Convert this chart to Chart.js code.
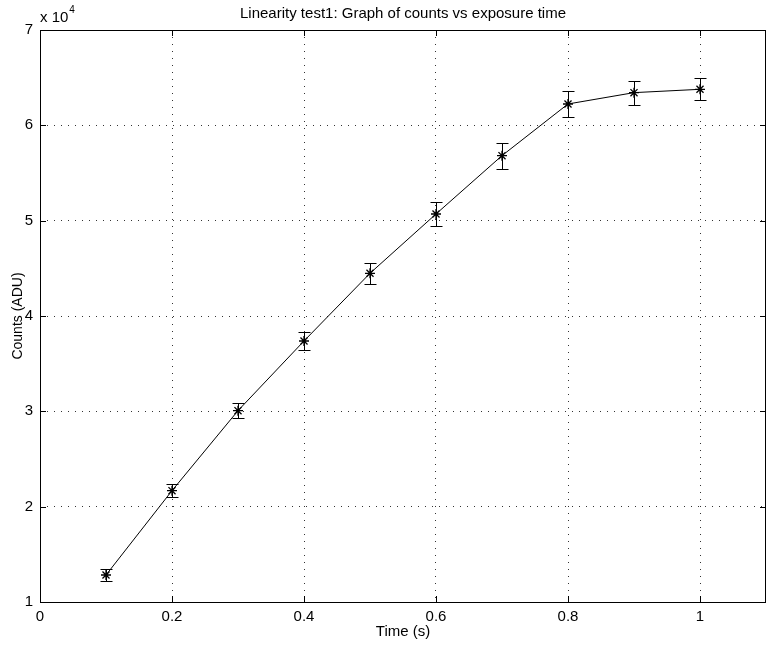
<!DOCTYPE html>
<html>
<head>
<meta charset="utf-8">
<script src="https://cdn.jsdelivr.net/npm/chart.js@4.4.0/dist/chart.umd.min.js"></script>
<style>
  body { margin: 0; background: #fff; }
  canvas { display: block; }
</style>
</head>
<body>
<canvas id="chart" width="767" height="649"></canvas>
<script>
// Linearity test data
const times = [0.1, 0.2, 0.3, 0.4, 0.5, 0.6, 0.7, 0.8, 0.9, 1.0];
const counts = [12830, 21680, 30070, 37380, 44480, 50700, 56820, 62240, 63430, 63780];
const errors = [580, 700, 820, 965, 1120, 1225, 1365, 1340, 1260, 1175];
const xTicks = [0, 0.2, 0.4, 0.6, 0.8, 1.0];
const yTicks = [10000, 20000, 30000, 40000, 50000, 60000, 70000];

const FONT = "'Liberation Sans', Arial, Helvetica, sans-serif";

// titre + multiplicateur "x 10^4"
const textPlugin = {
    id: 'textPlugin',
    afterDraw(chart) {
        const ctx = chart.ctx;
        const area = chart.chartArea;
        ctx.save();
        ctx.fillStyle = '#000';
        ctx.font = '15px ' + FONT;
        ctx.textAlign = 'center';
        ctx.textBaseline = 'middle';
        ctx.fillText('Linearity test1: Graph of counts vs exposure time', (area.left + area.right) / 2, 14);
        ctx.textAlign = 'left';
        ctx.textBaseline = 'alphabetic';
        ctx.font = '15px ' + FONT;
        ctx.fillText('x 10', area.left, 22);
        const w = ctx.measureText('x 10').width;
        ctx.font = '10px ' + FONT;
        ctx.fillText('4', area.left + w + 1, 13);
        ctx.restore();
    }
};

// cadre + graduations vers l'intérieur (style matlab)
const boxPlugin = {
    id: 'boxPlugin',
    afterDraw(chart) {
        const ctx = chart.ctx;
        const {left, right, top, bottom} = chart.chartArea;
        const xs = chart.scales.x, ys = chart.scales.y;
        const len = 6;
        ctx.save();
        ctx.strokeStyle = '#000';
        ctx.lineWidth = 1;
        ctx.beginPath();
        xTicks.forEach(v => {
            const px = Math.round(xs.getPixelForValue(v)) + 0.5;
            ctx.moveTo(px, bottom); ctx.lineTo(px, bottom - len);
            ctx.moveTo(px, top); ctx.lineTo(px, top + len);
        });
        yTicks.forEach(v => {
            const py = Math.round(ys.getPixelForValue(v)) + 0.5;
            ctx.moveTo(left, py); ctx.lineTo(left + len, py);
            ctx.moveTo(right, py); ctx.lineTo(right - len, py);
        });
        ctx.stroke();
        ctx.strokeRect(Math.round(left) + 0.5, Math.round(top) + 0.5,
            Math.round(right - left) - 1, Math.round(bottom - top));
        ctx.restore();
    }
};

// barres d'erreur
const errorBarPlugin = {
    id: 'errorBars',
    afterDatasetsDraw(chart) {
        const ctx = chart.ctx;
        const xs = chart.scales.x, ys = chart.scales.y;
        const cap = 6;
        ctx.save();
        ctx.strokeStyle = '#000';
        ctx.lineWidth = 1;
        ctx.beginPath();
        times.forEach((t, i) => {
            const px = Math.round(xs.getPixelForValue(t)) + 0.5;
            const hi = Math.round(ys.getPixelForValue(counts[i] + errors[i])) + 0.5;
            const lo = Math.round(ys.getPixelForValue(counts[i] - errors[i])) + 0.5;
            ctx.moveTo(px, hi); ctx.lineTo(px, lo);
            ctx.moveTo(px - cap, hi); ctx.lineTo(px + cap, hi);
            ctx.moveTo(px - cap, lo); ctx.lineTo(px + cap, lo);
        });
        ctx.stroke();
        ctx.restore();
    }
};

const gridOpts = {
    color: '#333',
    lineWidth: 1,
    drawTicks: false
};

new Chart(document.getElementById('chart'), {
    type: 'line',
    data: {
        datasets: [{
            data: times.map((t, i) => ({x: t, y: counts[i]})),
            borderColor: '#000',
            borderWidth: 1,
            pointStyle: 'star',
            pointRadius: 5,
            pointBorderColor: '#000',
            pointBorderWidth: 1.3,
            pointBackgroundColor: '#000',
            tension: 0,
            fill: false
        }]
    },
    options: {
        responsive: false,
        animation: false,
        layout: { autoPadding: false, padding: { top: 30, right: 1, left: 0, bottom: 0 } },
        plugins: {
            legend: { display: false },
            title: { display: false },
            tooltip: { enabled: false }
        },
        scales: {
            x: {
                type: 'linear',
                min: 0,
                max: 1.1,
                afterBuildTicks: axis => { axis.ticks = xTicks.map(v => ({value: v})); },
                afterFit: axis => { axis.height = 47; axis.paddingLeft = 0; axis.paddingRight = 0; },
                grid: gridOpts,
                border: { display: false, dash: [1, 6] },
                ticks: {
                    color: '#000',
                    padding: 6,
                    maxRotation: 0,
                    font: { family: FONT, size: 15 },
                    callback: v => String(+Number(v).toFixed(1))
                },
                title: {
                    display: true,
                    text: 'Time (s)',
                    color: '#000',
                    font: { family: FONT, size: 15 },
                    padding: { top: 0, bottom: 8 }
                }
            },
            y: {
                type: 'linear',
                min: 10000,
                max: 70000,
                afterBuildTicks: axis => { axis.ticks = yTicks.map(v => ({value: v})); },
                afterFit: axis => { axis.width = 40; axis.paddingTop = 0; axis.paddingBottom = 0; },
                grid: gridOpts,
                border: { display: false, dash: [1, 6] },
                ticks: {
                    color: '#000',
                    padding: 7,
                    font: { family: FONT, size: 15 },
                    callback: v => String(v / 10000)
                },
                title: {
                    display: true,
                    text: 'Counts (ADU)',
                    color: '#000',
                    font: { family: FONT, size: 14 },
                    padding: { top: 10, bottom: 0 }
                }
            }
        }
    },
    plugins: [errorBarPlugin, boxPlugin, textPlugin]
});
</script>
</body>
</html>
